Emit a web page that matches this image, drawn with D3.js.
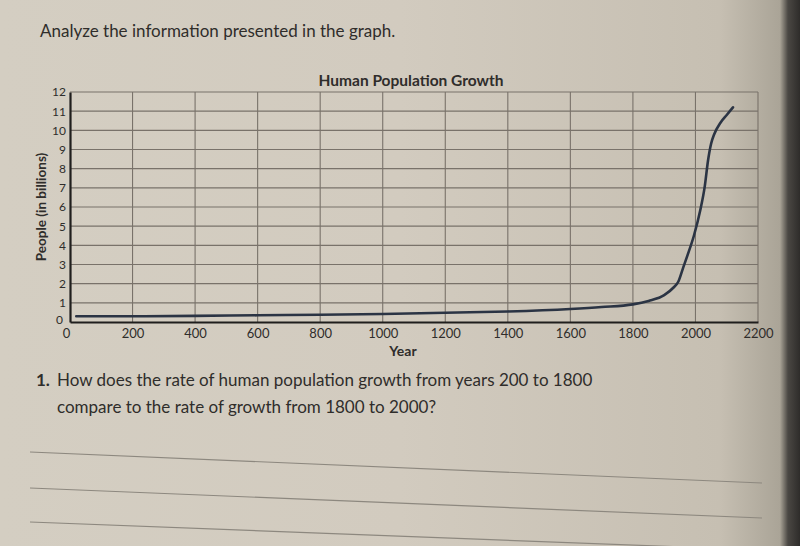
<!DOCTYPE html>
<html><head><meta charset="utf-8">
<script src="https://cdn.jsdelivr.net/npm/d3@7"></script>
<style>html,body{margin:0;padding:0;background:#d3cdc1;}svg{display:block;}</style>
</head><body>
<div id="chart"></div>
<script>
const years  = [20, 200, 400, 600, 800, 1000, 1200, 1400, 1600, 1700, 1800, 1850, 1900, 1930, 1945, 1960, 1975, 1995, 2015, 2030, 2040, 2050, 2060, 2080, 2100, 2120];
const people = [0.3, 0.3, 0.32, 0.35, 0.38, 0.42, 0.48, 0.55, 0.68, 0.78, 0.92, 1.1, 1.4, 1.8, 2.1, 2.8, 3.5, 4.5, 5.8, 7.1, 8.4, 9.3, 9.8, 10.4, 10.8, 11.2];
const xTicks = [0, 200, 400, 600, 800, 1000, 1200, 1400, 1600, 1800, 2000, 2200];
const yTicks = [0, 1, 2, 3, 4, 5, 6, 7, 8, 9, 10, 11, 12];
const title = "Human Population Growth";
const intro = "Analyze the information presented in the graph.";
const question = ["How does the rate of human population growth from years 200 to 1800",
                  "compare to the rate of growth from 1800 to 2000?"];

const W = 800, H = 546;
const svg = d3.select("#chart").append("svg").attr("width", W).attr("height", H);
const defs = svg.append("defs");
const g1 = defs.append("linearGradient").attr("id", "paper").attr("x1", 0).attr("x2", 1).attr("y1", 0).attr("y2", 0);
g1.append("stop").attr("offset", "0").attr("stop-color", "#d4cec2");
g1.append("stop").attr("offset", "0.5").attr("stop-color", "#d2cbbf");
g1.append("stop").attr("offset", "0.9").attr("stop-color", "#c6bfb2");
g1.append("stop").attr("offset", "0.975").attr("stop-color", "#aaa497");
g1.append("stop").attr("offset", "0.985").attr("stop-color", "#4a4743");
g1.append("stop").attr("offset", "1").attr("stop-color", "#2e2c2a");
svg.append("rect").attr("width", W).attr("height", H).attr("fill", "url(#paper)");

const font = "Lato, 'Open Sans', sans-serif";
const txt = "#2f2d2b";

svg.append("text").attr("x", 40).attr("y", 37).attr("font-family", font).attr("font-size", 17)
  .attr("fill", txt).text(intro);

const m = {left: 70, right: 758, top: 92, bottom: 322};
const x = d3.scaleLinear().domain([0, 2200]).range([m.left, m.right]);
const y = d3.scaleLinear().domain([0, 12]).range([m.bottom, m.top]);

const grid = svg.append("g");
grid.selectAll("line.v").data(xTicks.slice(1)).join("line")
  .attr("x1", d => x(d)).attr("x2", d => x(d)).attr("y1", y(0)).attr("y2", y(12))
  .attr("stroke", "#79726a").attr("stroke-width", 1.1);
grid.selectAll("line.h").data(yTicks.slice(1)).join("line")
  .attr("x1", x(0)).attr("x2", x(2200)).attr("y1", d => y(d)).attr("y2", d => y(d))
  .attr("stroke", "#79726a").attr("stroke-width", 1.1);

// axes
const xAxis = d3.axisBottom(x).tickValues(xTicks).tickSize(0).tickPadding(7).tickFormat(d3.format("d"));
const yAxis = d3.axisLeft(y).tickValues(yTicks).tickSize(0).tickPadding(4);
const gx = svg.append("g").attr("transform", `translate(0,${y(0)})`).call(xAxis);
gx.select(".domain").attr("stroke", "#1f1e1d").attr("stroke-width", 2.2);
gx.selectAll("text").attr("font-family", font).attr("font-size", 13).attr("fill", txt);
gx.selectAll(".tick").filter(d => d === 0).select("text").attr("dx", -4);
const gy = svg.append("g").attr("transform", `translate(${x(0)},0)`).call(yAxis);
gy.select(".domain").attr("stroke", "#1f1e1d").attr("stroke-width", 2.2);
gy.selectAll("text").attr("font-family", font).attr("font-size", 12).attr("fill", txt);
gy.selectAll(".tick").filter(d => d === 0).select("text").attr("dy", "0.15em").attr("dx", -3);

svg.append("text").attr("x", 411).attr("y", 86).attr("text-anchor", "middle")
  .attr("font-family", font).attr("font-weight", "bold").attr("font-size", 15.5).attr("fill", txt).text(title);
svg.append("text").attr("transform", `translate(46,${(m.top + m.bottom) / 2}) rotate(-90)`)
  .attr("text-anchor", "middle").attr("font-family", font).attr("font-weight", "bold")
  .attr("font-size", 13.5).attr("fill", txt).text("People (in billions)");
svg.append("text").attr("x", 403).attr("y", 356).attr("text-anchor", "middle")
  .attr("font-family", font).attr("font-weight", "bold").attr("font-size", 14).attr("fill", txt).text("Year");

const line = d3.line().x((d, i) => x(years[i])).y(d => y(d)).curve(d3.curveMonotoneX);
svg.append("path").datum(people).attr("d", line).attr("fill", "none")
  .attr("stroke", "#2b3444").attr("stroke-width", 2.6).attr("stroke-linecap", "round");

// question
svg.append("text").attr("x", 36).attr("y", 386).attr("font-family", font).attr("font-weight", "bold")
  .attr("font-size", 17).attr("fill", txt).text("1.");
question.forEach((q, i) => svg.append("text").attr("x", 57).attr("y", 386 + i * 27)
  .attr("font-family", font).attr("font-size", 17).attr("fill", txt).text(q));

// answer lines
const ans = [[452, 483], [488, 518], [522, 550]];
svg.selectAll("line.ans").data(ans).join("line")
  .attr("x1", 30).attr("x2", 762).attr("y1", d => d[0]).attr("y2", d => d[1])
  .attr("stroke", "#8d887f").attr("stroke-width", 1.2);
</script>
</body></html>
